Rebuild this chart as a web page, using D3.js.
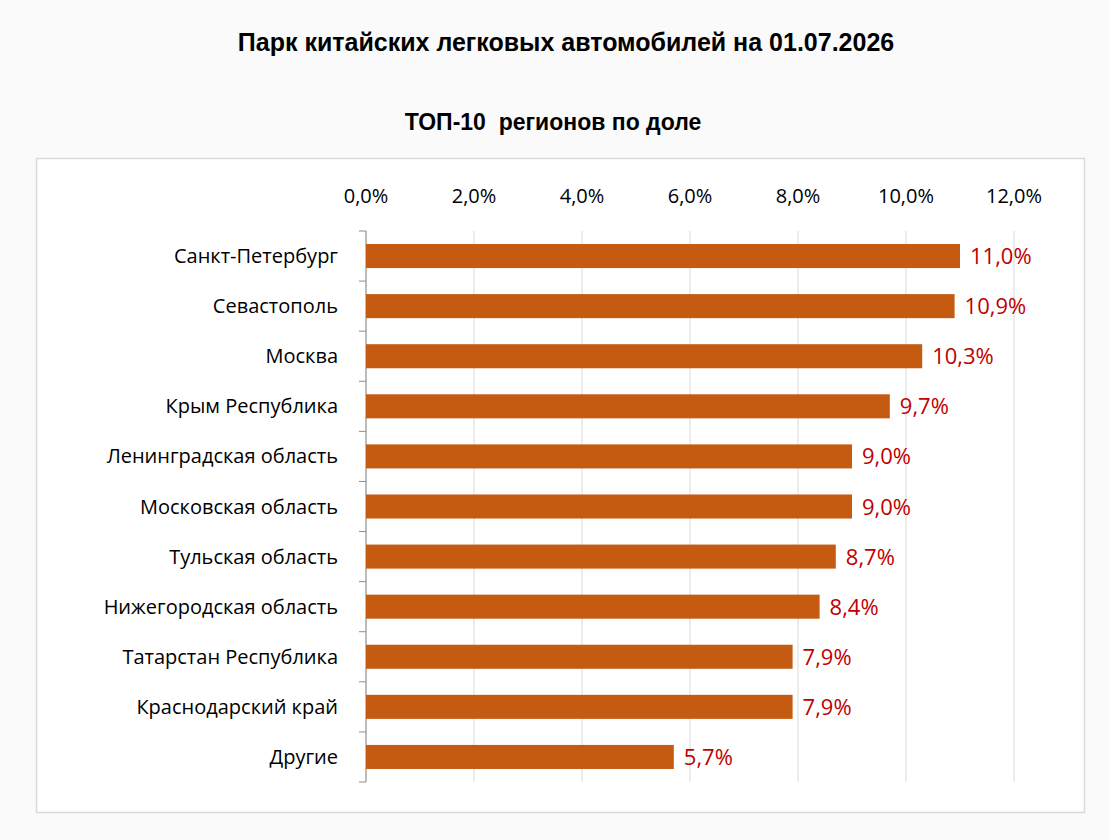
<!DOCTYPE html>
<html><head><meta charset="utf-8">
<script src="https://cdn.jsdelivr.net/npm/d3@7"></script>
<style>body{margin:0;background:#fafafa;}</style>
</head><body><div id="chart"></div>
<script>
const regions = ["Санкт-Петербург","Севастополь","Москва","Крым Республика","Ленинградская область","Московская область","Тульская область","Нижегородская область","Татарстан Республика","Краснодарский край","Другие"];
const shares = [11.0,10.9,10.3,9.7,9.0,9.0,8.7,8.4,7.9,7.9,5.7];
const ticks = [0,2,4,6,8,10,12];

const width = 1109, height = 840;
const svg = d3.select("#chart").append("svg").attr("width", width).attr("height", height)
    .style("font-family", "'Open Sans', sans-serif");
svg.append("rect").attr("width", width).attr("height", height).attr("fill", "#fafafa");
svg.append("rect").attr("x", 36.5).attr("y", 158.5).attr("width", 1048).attr("height", 654)
    .attr("fill", "#fff").attr("stroke", "#d9d9d9").attr("stroke-width", 1.5);

svg.append("text").attr("x", 566).attr("y", 51).attr("text-anchor", "middle")
    .style("font-family", "'Liberation Sans', Arial, sans-serif")
    .attr("font-size", 25).attr("font-weight", "bold").text("Парк китайских легковых автомобилей на 01.07.2026");
svg.append("text").attr("x", 553).attr("y", 130).attr("text-anchor", "middle")
    .style("font-family", "'Liberation Sans', Arial, sans-serif").style("white-space", "pre")
    .attr("font-size", 23).attr("font-weight", "bold").text("ТОП-10  регионов по доле");

const x = d3.scaleLinear().domain([0, 12]).range([366, 1014]);
const y = d3.scaleBand().domain(regions).range([231, 782]).paddingInner(0.52).paddingOuter(0.26);
const fmt = v => v.toFixed(1).replace(".", ",") + "%";

svg.append("g").selectAll("line").data(ticks).join("line")
    .attr("x1", d => x(d)).attr("x2", d => x(d)).attr("y1", 231).attr("y2", 782)
    .attr("stroke", "#d9d9d9").attr("stroke-width", 1);

svg.append("g").selectAll("text").data(ticks).join("text")
    .attr("x", d => x(d)).attr("y", 203).attr("text-anchor", "middle")
    .attr("font-size", 20).attr("fill", "#000").text(d => fmt(d));

// category axis
const yAxis = svg.append("g").attr("transform", "translate(366,0)")
    .call(d3.axisLeft(y).tickSize(6).tickSizeOuter(0).tickFormat(""));
yAxis.select(".domain").attr("stroke", "#8c8c8c").attr("d", "M0,231V782");
yAxis.selectAll(".tick line").remove();
svg.append("g").selectAll("line").data(d3.range(regions.length + 1)).join("line")
    .attr("x1", 359).attr("x2", 366)
    .attr("y1", i => 231 + i * (551 / regions.length)).attr("y2", i => 231 + i * (551 / regions.length))
    .attr("stroke", "#8c8c8c");

svg.append("g").selectAll("text").data(regions).join("text")
    .attr("x", 338).attr("y", d => y(d) + y.bandwidth() / 2 + 7).attr("text-anchor", "end")
    .attr("font-size", 20).text(d => d);

svg.append("g").selectAll("rect").data(shares).join("rect")
    .attr("x", x(0)).attr("y", (d, i) => y(regions[i]))
    .attr("width", d => x(d) - x(0)).attr("height", y.bandwidth()).attr("fill", "#c55a11");

svg.append("g").selectAll("text").data(shares).join("text")
    .attr("x", d => x(d) + 10).attr("y", (d, i) => y(regions[i]) + y.bandwidth() / 2 + 8)
    .attr("font-size", 22).attr("fill", "#c00000").text(d => fmt(d));
</script></body></html>
